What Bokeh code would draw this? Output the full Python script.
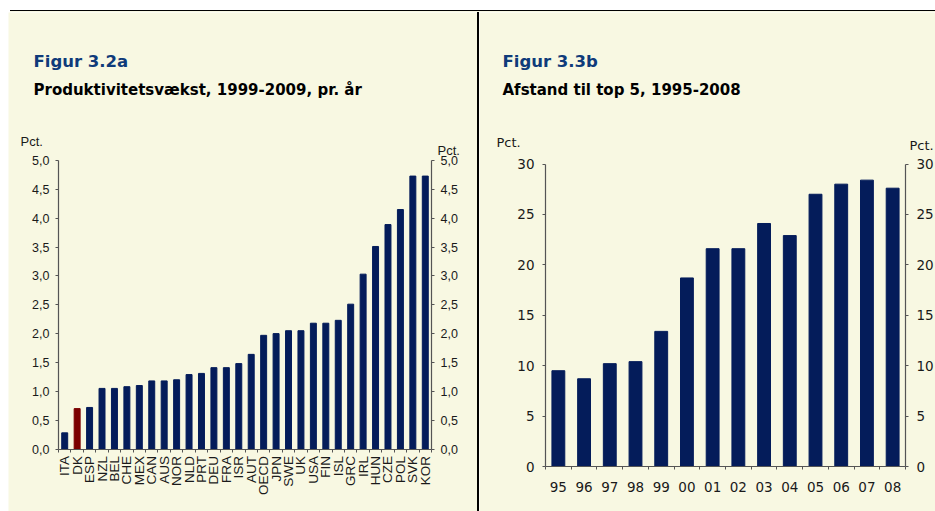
import numpy as np
from bokeh.plotting import figure
from bokeh.models import Range1d, LinearAxis, FixedTicker, Div
from bokeh.layouts import row, column
from bokeh.embed import file_html
from bokeh.resources import INLINE
from bokeh.core.properties import value

# ---------------- data ----------------
countries = ["ITA", "DK", "ESP", "NZL", "BEL", "CHE", "MEX", "CAN", "AUS", "NOR",
             "NLD", "PRT", "DEU", "FRA", "ISR", "AUT", "OECD", "JPN", "SWE", "UK",
             "USA", "FIN", "ISL", "GRC", "IRL", "HUN", "CZE", "POL", "SVK", "KOR"]
growth = [0.28, 0.70, 0.72, 1.05, 1.05, 1.08, 1.10, 1.18, 1.18, 1.20,
          1.29, 1.31, 1.41, 1.41, 1.48, 1.64, 1.97, 2.00, 2.05, 2.05,
          2.18, 2.18, 2.23, 2.51, 3.03, 3.51, 3.89, 4.15, 4.73, 4.73]
highlight = "DK"

years = ["95", "96", "97", "98", "99", "00", "01", "02", "03", "04", "05", "06", "07", "08"]
gap = [9.5, 8.7, 10.2, 10.4, 13.4, 18.7, 21.6, 21.6, 24.1, 22.9, 27.0, 28.0, 28.4, 27.6]

y1_ticks = [0.0, 0.5, 1.0, 1.5, 2.0, 2.5, 3.0, 3.5, 4.0, 4.5, 5.0]
y1_labels = ["0,0", "0,5", "1,0", "1,5", "2,0", "2,5", "3,0", "3,5", "4,0", "4,5", "5,0"]
y2_ticks = [0, 5, 10, 15, 20, 25, 30]
y2_labels = ["0", "5", "10", "15", "20", "25", "30"]

title1a = "Figur 3.2a"
title1b = "Produktivitetsvækst, 1999-2009, pr. år"
title2a = "Figur 3.3b"
title2b = "Afstand til top 5, 1995-2008"
unit = "Pct."

# ---------------- style ----------------
CREAM = "#F8F8E2"
NAVY = "#041C5A"
RED = "#7B0000"
BLUE = "#0F3B7A"
AXIS = "#555555"
TXT = "#1a1a1a"

TOP = 12          # page y where the panels start
H = 499           # panel height (to page y 511)


class Panel:
    """Figure whose frame fills the whole canvas; axes placed at fixed data locations."""

    def __init__(self, left, width, px0, px1, nx, py0, py1, ny):
        kx = (px1 - px0) / nx
        ky = (py0 - py1) / ny
        self.kx, self.ky, self.px0, self.py0 = kx, ky, px0, py0
        xr = Range1d((left - px0) / kx, (left + width - px0) / kx)
        yr = Range1d(-(TOP + H - py0) / ky, (py0 - TOP) / ky)
        self.p = figure(width=width, height=H, output_backend="svg", toolbar_location=None,
                        x_range=xr, y_range=yr, tools="", min_border=0,
                        background_fill_color=CREAM, border_fill_color=CREAM,
                        outline_line_color=None, x_axis_location=None, y_axis_location=None)
        self.p.xgrid.visible = False
        self.p.ygrid.visible = False

    def dx(self, px):
        return (px - self.px0) / self.kx

    def dy(self, py):
        return (self.py0 - py) / self.ky

    def text(self, px, py, txt, font, size, color, bold=False):
        self.p.text(x=[self.dx(px)], y=[self.dy(py)], text=[txt], text_font=value(font),
                    text_font_size=size, text_color=color,
                    text_font_style="bold" if bold else "normal",
                    text_baseline="alphabetic", text_align="left")


def style_axis(ax, font, size, standoff):
    ax.axis_line_color = AXIS
    ax.axis_line_width = 1.2
    ax.major_tick_line_color = AXIS
    ax.minor_tick_line_color = AXIS
    ax.major_tick_in = 0
    ax.minor_tick_in = 0
    ax.major_label_text_font = font
    ax.major_label_text_font_size = size
    ax.major_label_text_color = TXT
    ax.major_label_standoff = standoff


def x_cat_axis(panel, labels, font, size, standoff, vertical):
    n = len(labels)
    centers = list(np.arange(n) + 0.5)
    ax = LinearAxis(ticker=FixedTicker(ticks=centers, minor_ticks=list(np.arange(n + 1))),
                    major_label_overrides={float(c): l for c, l in zip(centers, labels)},
                    fixed_location=0, bounds=(0, n))
    style_axis(ax, font, size, standoff)
    ax.major_tick_out = 0
    ax.minor_tick_out = 3
    if vertical:
        ax.major_label_orientation = np.pi / 2
    panel.p.add_layout(ax, "below")


def y_axes(panel, ticks, labels, xpos, font, size, standoff):
    for side, loc in zip(("left", "right"), xpos):
        ax = LinearAxis(ticker=FixedTicker(ticks=ticks, minor_ticks=[]),
                        major_label_overrides={t: l for t, l in zip(ticks, labels)},
                        fixed_location=loc, bounds=(ticks[0], ticks[-1]))
        style_axis(ax, font, size, standoff)
        ax.major_tick_out = 3
        ax.minor_tick_out = 0
        panel.p.add_layout(ax, side)


# ---------------- left chart ----------------
n1 = len(countries)
L = Panel(left=8, width=469, px0=58, px1=431, nx=n1, py0=448.5, py1=160, ny=5)
x1 = np.arange(n1) + 0.5
colors1 = [RED if c == highlight else NAVY for c in countries]
L.p.vbar(x=x1, top=growth, width=0.48, color=colors1)
x_cat_axis(L, countries, "Liberation Sans", "13.5px", 4, True)
y_axes(L, y1_ticks, y1_labels, (0, n1), "Liberation Sans", "12.5px", 6)
L.text(33, 61, title1a, "DejaVu Sans", "16.5px", BLUE, bold=True)
L.text(33, 89, title1b, "DejaVu Sans", "15px", "#000000", bold=True)
L.text(20, 141, unit, "Liberation Sans", "13px", TXT)
L.text(437, 150, unit, "Liberation Sans", "13px", TXT)

# ---------------- right chart ----------------
n2 = len(years)
R = Panel(left=479, width=456, px0=545, px1=905, nx=n2, py0=466, py1=163.5, ny=30)
x2 = np.arange(n2) + 0.5
R.p.vbar(x=x2, top=gap, width=0.5, color=NAVY)
x_cat_axis(R, years, "DejaVu Sans", "13.5px", 12, False)
y_axes(R, y2_ticks, y2_labels, (0, n2), "DejaVu Sans", "13.5px", 8)
R.text(502, 61, title2a, "DejaVu Sans", "16.5px", BLUE, bold=True)
R.text(502, 89, title2b, "DejaVu Sans", "15px", "#000000", bold=True)
R.text(496, 142, unit, "DejaVu Sans", "13px", TXT)
R.text(909, 145, unit, "DejaVu Sans", "13px", TXT)

# ---------------- layout ----------------
top_line = Div(width=935, height=TOP, margin=0, styles={
    "background": "linear-gradient(to right, #ffffff 10px, transparent 10px), "
                  "linear-gradient(to bottom, #ffffff 10px, #000000 10px, #000000 11.5px, "
                  + CREAM + " 11.5px)"})
left_pad = Div(width=8, height=H, margin=0, styles={"background": "#ffffff"})
divider = Div(width=2, height=H, margin=0, styles={"background": "#000000"})
layout = column(top_line, row(left_pad, L.p, divider, R.p, spacing=0), spacing=0)

open("out.html", "w").write(file_html(layout, INLINE))
